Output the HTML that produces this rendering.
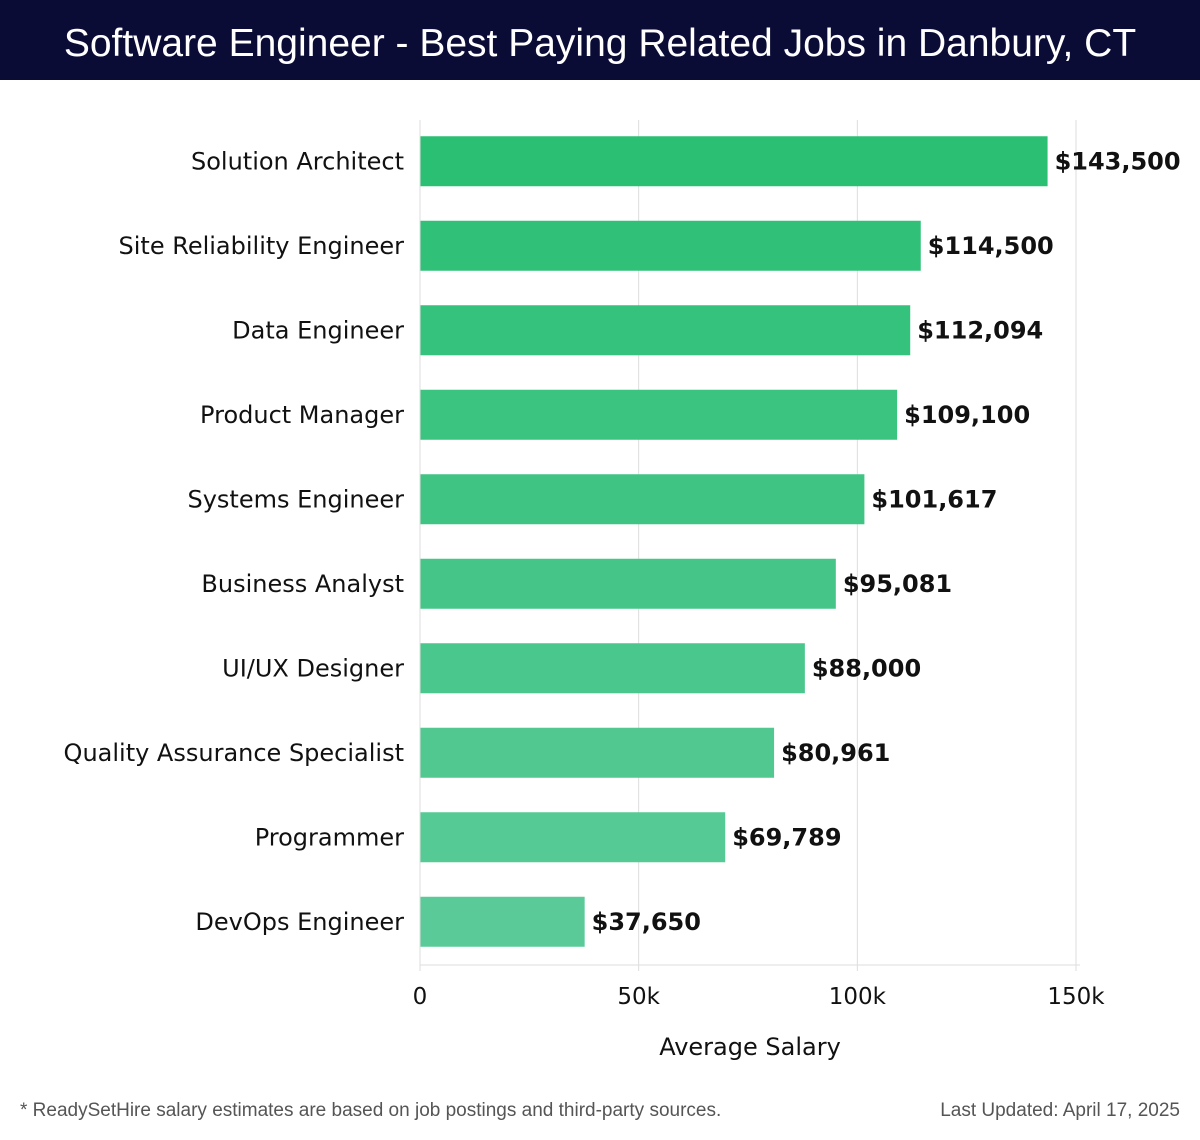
<!DOCTYPE html>
<html><head><meta charset="utf-8"><style>
body{margin:0;width:1200px;height:1140px;background:#fff;font-family:"DejaVu Sans","Liberation Sans",sans-serif;position:relative;overflow:hidden}
#hdr{position:absolute;left:0;top:0;width:1200px;height:80px;background:#0b0c36;color:#fff;font-size:39px;text-align:center;line-height:88px;font-family:"Liberation Sans","DejaVu Sans",sans-serif}
.ft{position:absolute;top:1100px;font-size:19px;color:#555;font-family:"Liberation Sans",sans-serif}
</style></head><body>
<div id="hdr">Software Engineer - Best Paying Related Jobs in Danbury, CT</div>
<svg id="c" width="1200" height="1140" style="position:absolute;left:0;top:0"></svg>
<div class="ft" style="left:20px">* ReadySetHire salary estimates are based on job postings and third-party sources.</div>
<div class="ft" style="right:20px">Last Updated: April 17, 2025</div>
<script>
const categories=["Solution Architect","Site Reliability Engineer","Data Engineer","Product Manager","Systems Engineer","Business Analyst","UI/UX Designer","Quality Assurance Specialist","Programmer","DevOps Engineer"];
const values=[143500,114500,112094,109100,101617,95081,88000,80961,69789,37650];
const valueLabels=["$143,500","$114,500","$112,094","$109,100","$101,617","$95,081","$88,000","$80,961","$69,789","$37,650"];
const ticks=[0,50000,100000,150000];
const tickLabels=["0","50k","100k","150k"];
const svg=document.getElementById('c');const NS='http://www.w3.org/2000/svg';
const x0=420,x1=1076,yTop=120,yBot=965;
const x=v=>x0+(v/150000)*(x1-x0);
const step=(yBot-yTop)/categories.length;
const yc=i=>yTop+step*(i+0.5)-1;
function mk(t,a,name){const e=document.createElementNS(NS,t);for(const k in a)e.setAttribute(k,a[k]);


svg.appendChild(e);return e;}
ticks.forEach((t,i)=>{
mk('line',{x1:x(t),x2:x(t),y1:yTop,y2:yBot+6,stroke:'#ddd','stroke-width':1},'gridline');
const tx=mk('text',{x:x(t),y:1004,'text-anchor':'middle','font-size':23,fill:'#111'},'x-tick-label');tx.textContent=tickLabels[i];
});
mk('line',{x1:x0,x2:x1+4,y1:yBot,y2:yBot,stroke:'#ddd','stroke-width':1},'x-axis-line');
const n=categories.length;
categories.forEach((c,i)=>{
const f=i/(n-1);
const r=Math.round(43+(90-43)*f),g=Math.round(191+(203-191)*f),b=Math.round(116+(152-116)*f);
mk('rect',{x:x0+0.5,y:yc(i)-25,width:x(values[i])-x0-0.5,height:50,fill:`rgb(${r},${g},${b})`},'bar');
const l=mk('text',{x:404,y:yc(i)+8,'text-anchor':'end','font-size':24,fill:'#111'},'category-label');l.textContent=c;
const v=mk('text',{x:x(values[i])+7,y:yc(i)+8,'font-size':24,'font-weight':'bold',fill:'#111'},'value-label');v.textContent=valueLabels[i];
});
const at=mk('text',{x:750,y:1055,'text-anchor':'middle','font-size':24,fill:'#111'},'x-axis-title');at.textContent='Average Salary';
</script>
</body></html>
